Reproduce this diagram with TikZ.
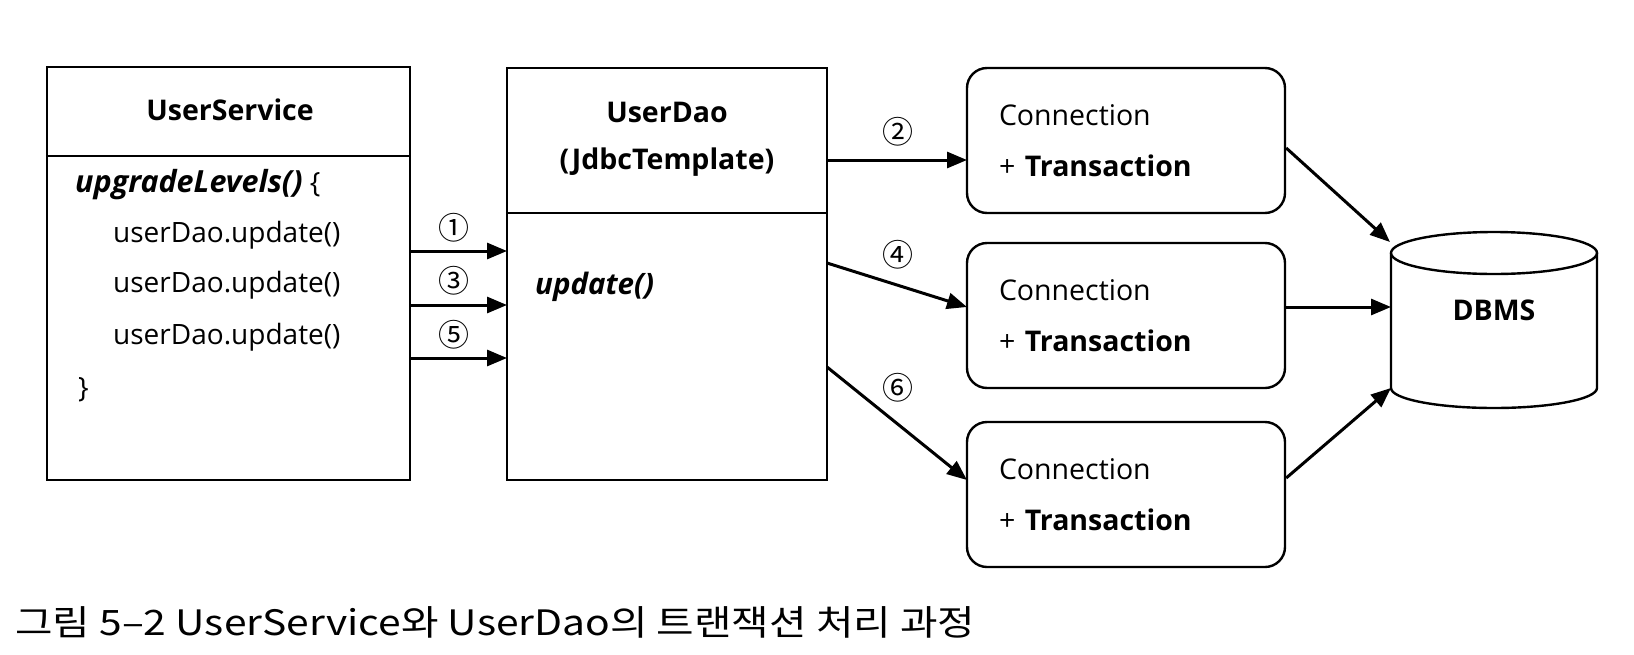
\documentclass[tikz,border=0pt]{standalone}
\usepackage{fontspec}
\setmainfont{Open Sans}
\newfontfamily\cjkfont{Noto Sans CJK KR}
\usetikzlibrary{arrows.meta,calc}
\begin{document}
\begin{tikzpicture}[x=1pt,y=-1pt,
  box/.style={draw, line width=2.4pt, inner sep=0pt},
  conn/.style={draw, rounded corners=20pt, line width=2.4pt, minimum width=318pt, minimum height=145pt, inner sep=0pt, text width=254pt, align=left, font=\fontsize{28.5}{51}\selectfont},
  arr/.style={-{Triangle[length=20pt,width=16pt]}, line width=3pt},
  lbl/.style={inner sep=0pt, font=\fontsize{31}{32}\selectfont\cjkfont},
  code/.style={anchor=west, inner sep=0pt, font=\fontsize{28}{30}\selectfont},
  head/.style={inner sep=0pt, font=\fontsize{28.5}{32}\selectfont\bfseries},
]
\useasboundingbox (0,0) rectangle (1634,654);

% UserService
\node[box, minimum width=363pt, minimum height=413pt] (us) at (228.5,273.5) {};
\coordinate (d1) at (0,156);
\draw[line width=2.4pt] (us.west |- d1) -- (us.east |- d1);
\node[head] (ust) at (230,110) {UserService};
\node[code] (ul) at (75,185) {{\fontsize{30.5}{32}\selectfont\textbf{\textit{upgradeLevels()}}} \{};
\node[code] (u1) at (113,235) {userDao.update()};
\node[code] (u2) at (113,285) {userDao.update()};
\node[code] (u3) at (113,337) {userDao.update()};
\node[code] (ub) at (78,390) {\}};

% UserDao
\node[box, minimum width=320pt, minimum height=412pt] (dao) at (667,274) {};
\coordinate (d2) at (0,213);
\draw[line width=2.4pt] (dao.west |- d2) -- (dao.east |- d2);
\node[head] (daot1) at (667,112) {UserDao};
\node[head] (daot2) at (667,162) {(JdbcTemplate)};
\node[code] (upd) at (535,287) {{\fontsize{29.5}{30}\selectfont\textbf{\textit{update()}}}};

% Connections
\node[conn] (c1) at (1126,140.5) {Connection\\+ \textbf{Transaction}};
\node[conn] (c2) at (1126,315.5) {Connection\\+ \textbf{Transaction}};
\node[conn] (c3) at (1126,494.5) {Connection\\+ \textbf{Transaction}};

% DBMS cylinder
\fill[white] (1391,253) -- (1391,388) arc[start angle=180, end angle=360, x radius=103pt, y radius=20pt] -- (1597,253) -- cycle;
\draw[line width=2.4pt] (1391,253) -- (1391,388) arc[start angle=180, end angle=360, x radius=103pt, y radius=20pt] -- (1597,253);
\draw[line width=2.4pt] (1494,253) ellipse[x radius=103pt, y radius=21pt];
\node[head] (dbms) at (1494,310) {DBMS};

% arrows UserService -> UserDao
\coordinate (a1) at (410,251); \coordinate (b1) at (507,251);
\coordinate (a3) at (410,305); \coordinate (b3) at (507,305);
\coordinate (a5) at (410,358); \coordinate (b5) at (507,358);
\draw[arr] (a1) -- (b1);
\draw[arr] (a3) -- (b3);
\draw[arr] (a5) -- (b5);
\node[lbl] (n1) at (454,228) {①};
\node[lbl] (n3) at (454,281) {③};
\node[lbl] (n5) at (454,335) {⑤};

% arrows UserDao -> Connections
\coordinate (a2) at (827,160); \coordinate (b2) at (967,160);
\coordinate (a4) at (827,263); \coordinate (b4) at (967,307);
\coordinate (a6) at (827,367); \coordinate (b6) at (967,480);
\draw[arr] (a2) -- (b2);
\draw[arr] (a4) -- (b4);
\draw[arr] (a6) -- (b6);
\node[lbl] (n2) at (898,132) {②};
\node[lbl] (n4) at (898,255) {④};
\node[lbl] (n6) at (898,388) {⑥};

% Connections -> DBMS
\coordinate (e1) at (1390,242);
\coordinate (e2) at (1391,307);
\coordinate (e3) at (1391,388);
\draw[arr] ($(c1.east)+(0,7.5)$) -- (e1);
\draw[arr] ($(c2.east)+(0,-8.5)$) -- (e2);
\draw[arr] ($(c3.east)+(0,-16.5)$) -- (e3);

% caption
\node[anchor=west, inner sep=0pt, xscale=1.165, font=\fontsize{35}{38}\selectfont\cjkfont] (cap) at (15,622) {그림 5–2 UserService와 UserDao의 트랜잭션 처리 과정};
\end{tikzpicture}
\end{document}
